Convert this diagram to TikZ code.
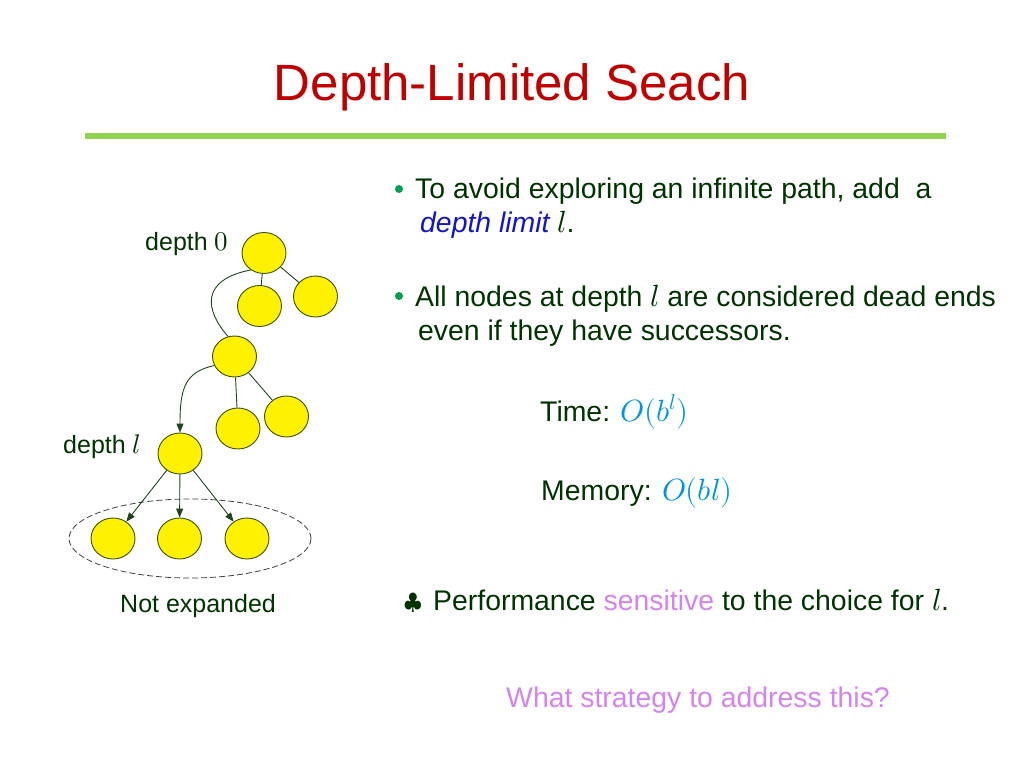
\documentclass[tikz,border=0pt]{standalone}
\usepackage{fontspec}
\usepackage{unicode-math}
\setmainfont{Liberation Sans}
\setmathfont[Scale=1.08]{Latin Modern Math}
\usetikzlibrary{shapes.geometric,arrows.meta}
\definecolor{txt}{RGB}{0,51,0}
\definecolor{titlered}{RGB}{192,0,0}
\definecolor{rule}{RGB}{146,208,80}
\definecolor{edgec}{RGB}{30,70,30}
\definecolor{nodeline}{RGB}{60,80,0}
\definecolor{limblue}{RGB}{20,20,200}
\definecolor{mathc}{RGB}{0,150,220}
\definecolor{violet}{RGB}{212,132,238}
\definecolor{bullg}{RGB}{0,160,80}
\begin{document}
\begin{tikzpicture}[x=1pt,y=-1pt,
  tn/.style={ellipse, draw=nodeline, fill=yellow, line width=0.9pt, minimum width=44pt, minimum height=41pt, inner sep=0pt},
  edge/.style={draw=edgec, line width=0.9pt},
  arr/.style={edge, -{Triangle[length=9pt,width=7pt]}},
  body/.style={inner sep=0pt, anchor=base west, text=txt, font=\fontsize{28.4}{34}\selectfont},
  small/.style={inner sep=0pt, anchor=base west, text=txt, font=\fontsize{25}{30}\selectfont},
  bul/.style={circle, fill=bullg, minimum size=8pt, inner sep=0pt}
]
\useasboundingbox (0,0) rectangle (1024,768);
\fill[white] (0,0) rectangle (1024,768);

% title and rule
\node[inner sep=0pt, anchor=base, text=titlered, font=\fontsize{51}{60}\selectfont] (title) at (512,100) {Depth-Limited Seach};
\coordinate (r1) at (85,136);
\coordinate (r2) at (946,136);
\draw[rule, line width=6pt] (r1) -- (r2);

% group ellipse
\node[ellipse, draw=black!75, dashed, dash pattern=on 6pt off 3pt, line width=0.8pt, minimum width=242pt, minimum height=79pt, inner sep=0pt] (grp) at (190,538.5) {};

% tree nodes
\node[tn] (n0) at (264,253) {};
\node[tn] (n1) at (259.5,306) {};
\node[tn] (n2) at (315.5,296.5) {};
\node[tn] (n3) at (234.5,356.5) {};
\node[tn] (n4) at (238,428.5) {};
\node[tn] (n5) at (286.5,416.5) {};
\node[tn] (n6) at (180,453.5) {};
\node[tn] (l1) at (113,538.5) {};
\node[tn] (l2) at (179.5,538.5) {};
\node[tn] (l3) at (247,538.5) {};

% edges
\draw[edge] (n0) -- (n1);
\draw[edge] (n0) -- (n2);
\draw[edge] (n3) -- (n4);
\draw[edge] (n3) -- (n5);
\draw[edge] (n0.232) .. controls (200,280) and (205,310) .. (n3.108);
\draw[arr] (n3.204) .. controls (185,372) and (180,388) .. (n6.north);
\draw[arr] (n6) -- (l1);
\draw[arr] (n6) -- (l2);
\draw[arr] (n6) -- (l3);

% tree labels
\node[small] (d0) at (145,250) {depth $0$};
\node[small] (dl) at (63,453) {depth $l$};
\node[small] (ne) at (120,612) {Not expanded};

% bullets
\node[bul] (b1) at (399,189) {};
\node[body] (t1) at (415,198) {To avoid exploring an infinite path, add\ \ a};
\node[body] (t2) at (420,232) {\textcolor{limblue}{\itshape depth limit} $l$.};
\node[bul] (b2) at (399,296) {};
\node[body] (t3) at (415,306) {All nodes at depth $l$ are considered dead ends};
\node[body] (t4) at (418,340) {even if they have successors.};

% complexity
\node[body] (time) at (540,421) {Time: \textcolor{mathc}{$O(b^{l})$}};
\node[body] (mem) at (541,500) {Memory: \textcolor{mathc}{$O(bl)$}};

% performance
\node[body, font=\fontsize{21}{26}\selectfont] (club) at (404,609) {$\clubsuit$};
\node[body] (perf) at (433,610) {Performance \textcolor{violet}{sensitive} to the choice for $l$.};

\node[body, text=violet] (q) at (506,707) {What strategy to address this?};
\end{tikzpicture}
\end{document}
